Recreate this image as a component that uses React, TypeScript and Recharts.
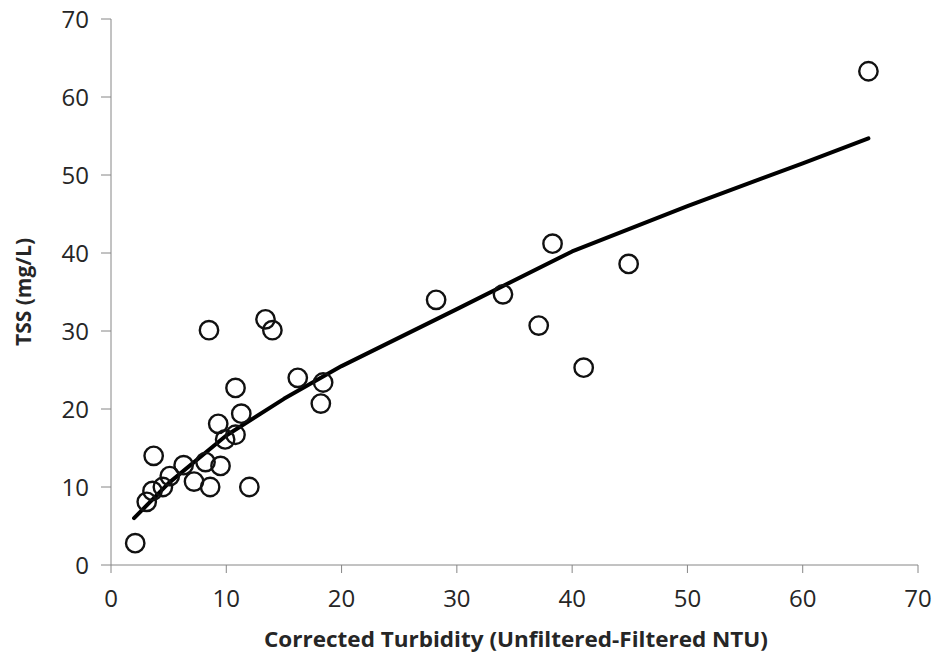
import React from 'react';
import {
  ComposedChart,
  Scatter,
  Line,
  XAxis,
  YAxis,
  Label,
} from 'recharts';

const turbidity = [
  2.1, 3.1, 3.6, 3.7, 4.5, 5.1, 6.3, 7.2, 8.2, 8.6, 8.5, 9.5, 9.3, 9.9, 10.8,
  11.3, 10.8, 12.0, 13.4, 14.0, 16.2, 18.4, 18.2, 28.2, 34.0, 38.3, 37.1, 41.0,
  44.9, 65.7,
];
const tss = [
  2.8, 8.1, 9.5, 14.0, 10.0, 11.4, 12.8, 10.7, 13.2, 10.0, 30.1, 12.7, 18.1,
  16.1, 16.7, 19.4, 22.7, 10.0, 31.5, 30.1, 24.0, 23.4, 20.7, 34.0, 34.7, 41.2,
  30.7, 25.3, 38.6, 63.3,
];

// fitted curve
const trendX = [2, 5, 10, 15, 20, 30, 40, 50, 60, 65.7];
const trendY = [6.0, 10.5, 16.6, 21.3, 25.5, 32.8, 40.2, 46.0, 51.5, 54.7];

const ticks = [0, 10, 20, 30, 40, 50, 60, 70];

const points = turbidity.map((x, i) => ({ x, y: tss[i] }));
const trend = trendX.map((x, i) => ({ x, y: trendY[i] }));

const FONT = '"Open Sans", sans-serif';
const AXIS = '#868686';
const TEXT = '#262626';

const Ring = (props: any) => (
  <circle
    cx={props.cx}
    cy={props.cy}
    r={9.2}
    fill="none"
    stroke="#111"
    strokeWidth={2.4}
  />
);

const App = () => {
  const tick = { fill: TEXT, fontSize: 24, fontFamily: FONT };
  return (
    <div style={{ position: 'absolute', left: 0, top: 0, width: 938, height: 658, background: '#fff' }}>
      <ComposedChart
        width={938}
        height={658}
        margin={{ top: 19, right: 20, left: 0, bottom: 33 }}
      >
        <XAxis
          type="number"
          dataKey="x"
          domain={[0, 70]}
          ticks={ticks}
          height={60}
          tickSize={8}
          tickMargin={17}
          stroke={AXIS}
          tick={tick}
        >
          <Label
            content={() => (
              <text
                x={516}
                y={647}
                textAnchor="middle"
                fontFamily={FONT}
                fontWeight="bold"
                fontSize={21}
                fill={TEXT}
                textLength={504}
                lengthAdjust="spacingAndGlyphs"
              >
                Corrected Turbidity (Unfiltered-Filtered NTU)
              </text>
            )}
          />
        </XAxis>
        <YAxis
          type="number"
          dataKey="y"
          domain={[0, 70]}
          ticks={ticks}
          width={111}
          tickSize={10}
          tickMargin={12}
          stroke={AXIS}
          tick={tick}
        >
          <Label
            content={() => (
              <text
                x={0}
                y={0}
                transform="translate(31 292) rotate(-90)"
                textAnchor="middle"
                fontFamily={FONT}
                fontWeight="bold"
                fontSize={22}
                fill={TEXT}
                textLength={108}
                lengthAdjust="spacingAndGlyphs"
              >
                TSS (mg/L)
              </text>
            )}
          />
        </YAxis>
        <Line
          data={trend}
          dataKey="y"
          type="linear"
          stroke="#000"
          strokeWidth={4}
          strokeLinejoin="round"
          strokeLinecap="round"
          dot={false}
          activeDot={false}
          isAnimationActive={false}
        />
        <Scatter
          data={points}
          dataKey="y"
          shape={Ring}
          isAnimationActive={false}
        />
      </ComposedChart>
    </div>
  );
};

export default App;
